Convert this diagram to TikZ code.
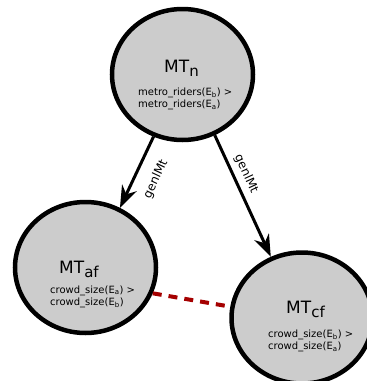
\documentclass[tikz,border=0pt]{standalone}
\usepackage{fontspec}
\setmainfont{DejaVu Sans}
\usepackage{tikz}
\usetikzlibrary{arrows.meta}
\usetikzlibrary{shapes.geometric}

\definecolor{mtgray}{RGB}{204,204,204}
\definecolor{cmpred}{RGB}{165,0,0}
\newcommand{\mtname}[1]{MT\raisebox{-4pt}{\fontsize{15}{15}\selectfont #1}}

\begin{document}
\begin{tikzpicture}[x=1pt,y=-1pt,
  -,>={Stealth[length=22pt,width=16pt,inset=7pt]},
  gen/.style={->,line width=3pt},
  cmp/.style={cmpred,line width=4pt,dash pattern=on 9pt off 7pt},
  lbl/.style={sloped,inner sep=0pt,font=\fontsize{12}{12}\selectfont},
  title/.style={anchor=base west,inner sep=0pt,font=\fontsize{17}{17}\selectfont},
  cond/.style={anchor=north west,align=left,inner sep=0pt,font=\fontsize{10}{12.5}\selectfont}]
      \tikzstyle{mt}=[draw=black,ellipse,fill=mtgray,line width=4.5pt,minimum width=141pt,minimum height=131pt,inner sep=0pt]

     \useasboundingbox (0,0) rectangle (367,381);

     \node [mt] (mtn) at (182.5,74.5) {};
     \node [mt] (mtaf) at (85.5,267.5) {};
     \node [mt] (mtcf) at (302,318) {};

     \node [title] (mtnt) at (164,72) {\mtname{n}};
     \node [cond] (mtnc) at (138,87.5) {metro\_riders(E\textsubscript{b}) >\\metro\_riders(E\textsubscript{a})};

     \node [title] (mtaft) at (59,273) {\mtname{af}};
     \node [cond] (mtafc) at (50,285.5) {crowd\_size(E\textsubscript{a}) >\\crowd\_size(E\textsubscript{b})};

     \node [title] (mtcft) at (286,313) {\mtname{cf}};
     \node [cond] (mtcfc) at (268,329.5) {crowd\_size(E\textsubscript{b}) >\\crowd\_size(E\textsubscript{a})};

     \draw [gen] (mtn.245) -- node [lbl,below=13pt,pos=0.48] (gen1) {genlMt} (mtaf.60);
     \draw [gen] (mtn.298) -- node [lbl,above=5pt,pos=0.36] (gen2) {genlMt} (mtcf.117);
     \draw [cmp] (mtaf.-21) -- (mtcf.171);

  \end{tikzpicture}
\end{document}
